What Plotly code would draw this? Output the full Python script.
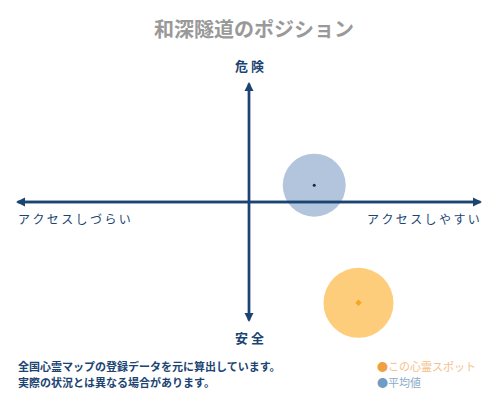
import plotly.graph_objects as go

# positions on a -10..10 scale (x: access, y: danger)
spot_names = ["この心霊スポット", "平均値"]
access_vals = [4.7, 2.8]
danger_vals = [-8.4, 1.4]
fill_colors = ["rgba(253,196,100,0.85)", "rgba(145,172,205,0.7)"]
dot_colors = ["#f5a623", "#1a2a3a"]
circle_sizes = [70, 63]

title_text = "和深隧道のポジション"
top_label = "危 険"
bottom_label = "安 全"
left_label = "アクセスしづらい"
right_label = "アクセスしやすい"
note_lines = ["全国心霊マップの登録データを元に算出しています。", "実際の状況とは異なる場合があります。"]

font_jp = "Noto Sans CJK JP"
navy = "#1b4472"
thin = "\u2009"

fig = go.Figure()

for i in range(len(spot_names)):
    fig.add_trace(go.Scatter(
        x=[access_vals[i]], y=[danger_vals[i]], mode="markers", cliponaxis=False,
        marker=dict(size=circle_sizes[i], color=fill_colors[i], line=dict(width=0)),
        hoverinfo="skip", showlegend=False))
    fig.add_trace(go.Scatter(
        x=[access_vals[i]], y=[danger_vals[i]], mode="markers", cliponaxis=False,
        marker=dict(size=3 if i else 5, color=dot_colors[i],
                    symbol="circle" if i else "diamond"),
        hoverinfo="skip", showlegend=False))

# axis arrows
arrow = dict(showarrow=True, arrowhead=2, arrowsize=0.75, arrowwidth=2.4,
             arrowcolor=navy, xref="x", yref="y", axref="x", ayref="y", text="")
fig.add_annotation(x=10, y=0, ax=-10, ay=0, **arrow)
fig.add_annotation(x=-10, y=0, ax=10, ay=0, **arrow)
fig.add_annotation(x=0, y=10, ax=0, ay=-10, **arrow)
fig.add_annotation(x=0, y=-10, ax=0, ay=10, **arrow)

lab = dict(showarrow=False, font=dict(family=font_jp, size=12, color=navy))
big = dict(showarrow=False, font=dict(family=font_jp, size=13, color=navy))
fig.add_annotation(x=0, y=10, yanchor="bottom", yshift=5, text="<b>" + top_label + "</b>", **big)
fig.add_annotation(x=0, y=-10, yanchor="top", yshift=-4, text="<b>" + bottom_label + "</b>", **big)
fig.add_annotation(x=-10, y=0, xanchor="left", yanchor="top", yshift=-6, xshift=0,
                   text=thin.join(left_label), **lab)
fig.add_annotation(x=10, y=0, xanchor="right", yanchor="top", yshift=-6, xshift=0,
                   text=thin.join(right_label), **lab)

for k, line in enumerate(note_lines):
    fig.add_annotation(xref="paper", yref="paper", x=0.0, y=-0.185 - k * 0.066,
                       xanchor="left", yanchor="middle", align="left", showarrow=False,
                       text="<b>" + line + "</b>",
                       font=dict(family=font_jp, size=11, color=navy))

legend_dot = ["#f0a040", "#6f9cc4"]
legend_txt = ["#f5c08a", "#8aabc8"]
for k in range(len(spot_names)):
    fig.add_annotation(xref="paper", yref="paper", x=0.77, y=-0.185 - k * 0.066,
                       xanchor="left", yanchor="middle", align="left", showarrow=False,
                       text="<span style='color:" + legend_dot[k] + "'>●</span><span style='color:"
                            + legend_txt[k] + "'>" + spot_names[k] + "</span>",
                       font=dict(family=font_jp, size=11))

# figure is 8px smaller than the window to allow for the page's body margin
fig.update_layout(
    width=492, height=392,
    title=dict(text="<b>" + title_text + "</b>", x=0.5, y=0.944, xanchor="center", yanchor="middle",
               font=dict(family=font_jp, size=20, color="#999999")),
    paper_bgcolor="white", plot_bgcolor="white",
    margin=dict(l=8, r=18, t=74, b=78),
    xaxis=dict(range=[-10, 10], visible=False, fixedrange=True),
    yaxis=dict(range=[-10, 10], visible=False, fixedrange=True),
    showlegend=False,
)

fig.write_html("out.html")
